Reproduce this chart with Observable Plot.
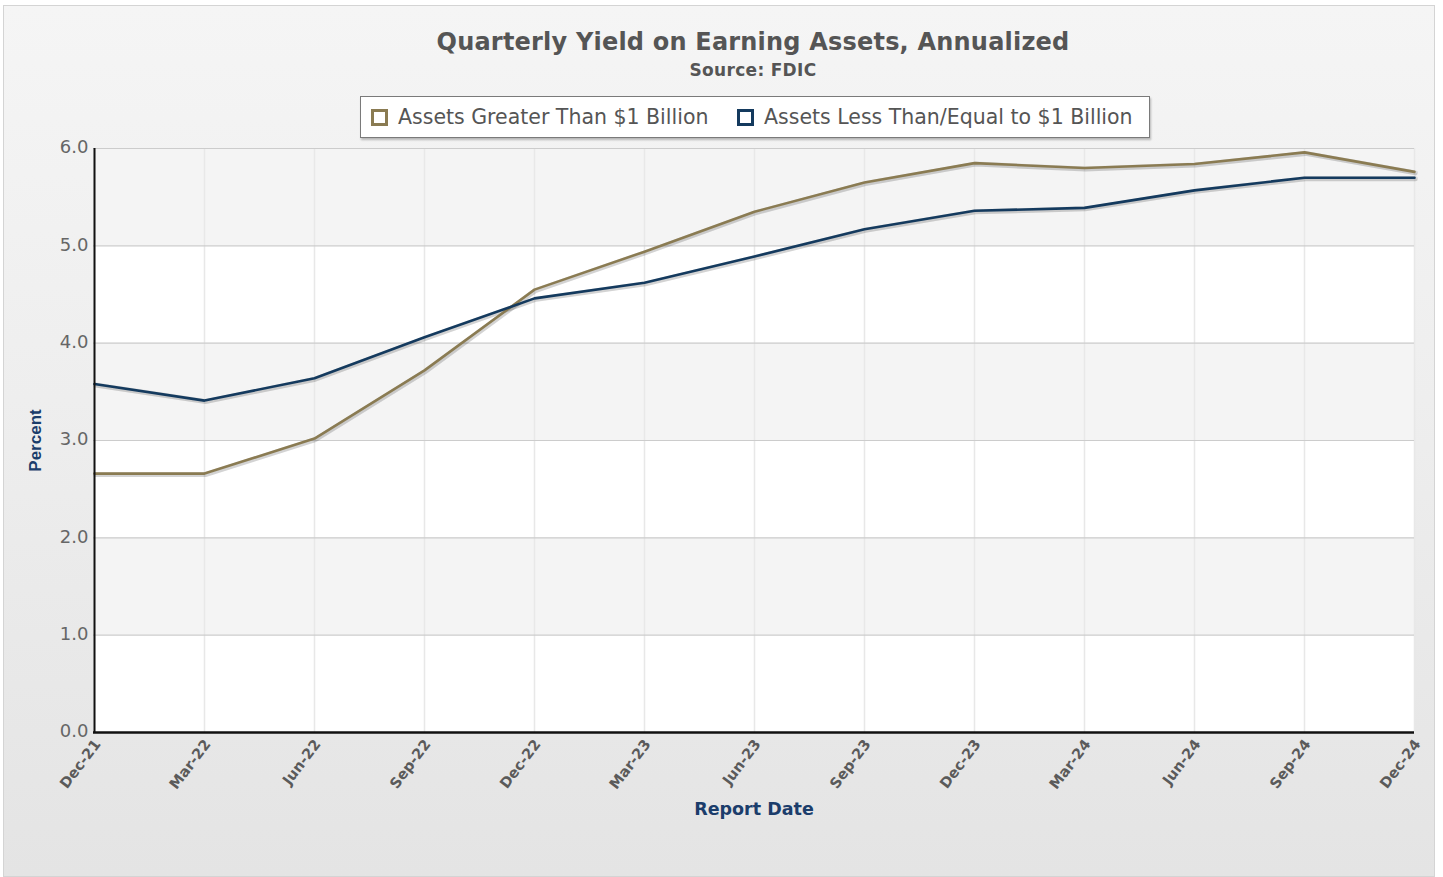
<!DOCTYPE html>
<html>
<head>
<meta charset="utf-8">
<script src="https://cdn.jsdelivr.net/npm/d3@7"></script>
<script src="https://cdn.jsdelivr.net/npm/@observablehq/plot@0.6"></script>
<style>
  html, body { margin: 0; padding: 0; background: #ffffff; overflow: hidden; }
  body { width: 1443px; height: 877px; position: relative; font-family: "DejaVu Sans", Verdana, sans-serif; }
  #card { position: absolute; left: 3px; top: 5px; width: 1432px; height: 872px; box-sizing: border-box;
          border: 1px solid #d4d4d4; background: linear-gradient(#f5f5f5 0%, #eeeeee 45%, #e4e4e4 100%); }
  #title { position: absolute; left: 253px; width: 1000px; top: 28px; text-align: center;
           font: bold 24px "DejaVu Sans", Verdana, sans-serif; color: #555555; letter-spacing: 0.2px; }
  #subtitle { position: absolute; left: 253px; width: 1000px; top: 60px; text-align: center;
           font: bold 17px "DejaVu Sans", Verdana, sans-serif; color: #555555; letter-spacing: 0.3px; }
  #legend { position: absolute; left: 360px; top: 96px; width: 790px; height: 42px; box-sizing: border-box;
            background: #ffffff; border: 1px solid #7a7a7a; box-shadow: 1px 2px 2px rgba(0,0,0,0.25); }
  .item { position: absolute; top: 0; height: 40px; display: flex; align-items: center;
          font: 20.5px "DejaVu Sans", Verdana, sans-serif; color: #555555; white-space: nowrap; }
  .swatch { width: 11px; height: 11px; border: 3px solid; background: #fff; margin-right: 10px; }
  #chart { position: absolute; left: 0; top: 140px; }
</style>
</head>
<body>
<div id="card"></div>
<div id="title"></div>
<div id="subtitle"></div>
<div id="legend"></div>
<div id="chart"></div>
<script>
// ---- data ----
const titleText = "Quarterly Yield on Earning Assets, Annualized";
const subtitleText = "Source: FDIC";
const xTitle = "Report Date";
const yTitle = "Percent";
const quarters = ["Dec-21","Mar-22","Jun-22","Sep-22","Dec-22","Mar-23","Jun-23","Sep-23","Dec-23","Mar-24","Jun-24","Sep-24","Dec-24"];
const seriesNames = ["Assets Greater Than $1 Billion", "Assets Less Than/Equal to $1 Billion"];
const seriesColors = ["#8a7b52", "#143a5e"];
const greaterThan1B = [2.66, 2.66, 3.02, 3.72, 4.55, 4.94, 5.35, 5.65, 5.85, 5.80, 5.84, 5.96, 5.76];
const lessEqual1B   = [3.58, 3.41, 3.64, 4.06, 4.46, 4.62, 4.89, 5.17, 5.36, 5.39, 5.57, 5.70, 5.70];
const yTicks = [0, 1, 2, 3, 4, 5, 6];
const shadedBands = [[1, 2], [3, 4], [5, 6]];

// ---- header & legend ----
document.getElementById("title").textContent = titleText;
document.getElementById("subtitle").textContent = subtitleText;
const legend = document.getElementById("legend");
const legendLefts = [10, 376];
seriesNames.forEach((name, i) => {
  const it = document.createElement("div");
  it.className = "item";
  it.style.left = legendLefts[i] + "px";
  const sw = document.createElement("span");
  sw.className = "swatch";
  sw.style.borderColor = seriesColors[i];
  const tx = document.createElement("span");
  tx.textContent = name;
  it.appendChild(sw); it.appendChild(tx);
  legend.appendChild(it);
});

// ---- table ----
const rows = [];
quarters.forEach((q, i) => {
  rows.push({quarter: q, value: greaterThan1B[i], series: seriesNames[0]});
  rows.push({quarter: q, value: lessEqual1B[i], series: seriesNames[1]});
});
const bands = shadedBands.map(([lo, hi]) => ({lo, hi}));

const chart = Plot.plot({
  width: 1443,
  height: 737,
  marginLeft: 93,
  marginRight: 29,
  marginTop: 8,
  marginBottom: 145,
  style: {background: "transparent", overflow: "visible", fontFamily: "'DejaVu Sans', Verdana, sans-serif"},
  x: {type: "point", domain: quarters, padding: 0, axis: null},
  y: {domain: [0, 6], axis: null},
  color: {domain: seriesNames, range: seriesColors},
  marks: [
    Plot.frame({fill: "#ffffff", stroke: null}),
    Plot.rect(bands, {y1: "lo", y2: "hi", fill: "#f4f4f4"}),
    Plot.ruleX(quarters, {x: d => d, stroke: "#e8e8e8", strokeWidth: 1.5}),
    Plot.ruleY(yTicks.filter(d => d > 0), {y: d => d, stroke: "#cccccc", strokeWidth: 1.2}),
    // line shadows
    Plot.line(rows, {x: "quarter", y: "value", z: "series", stroke: "#000", strokeOpacity: 0.10, strokeWidth: 5, dx: 1, dy: 1}),
    Plot.line(rows, {x: "quarter", y: "value", z: "series", stroke: "#000", strokeOpacity: 0.08, strokeWidth: 3, dx: 1, dy: 2}),
    Plot.line(rows, {x: "quarter", y: "value", z: "series", stroke: "series", strokeWidth: 2.6}),
    // axes lines
    Plot.ruleX([quarters[0]], {x: d => d, stroke: "#111111", strokeWidth: 2}),
    Plot.ruleY([0], {y: d => d, stroke: "#111111", strokeWidth: 2.5}),
    // y tick labels
    Plot.text(yTicks, {frameAnchor: "left", y: d => d, text: d => d.toFixed(1), dx: -5, dy: -1, textAnchor: "end",
      fontSize: 18, fill: "#666666", letterSpacing: 3}),
    // x tick labels
    Plot.text(quarters, {x: d => d, y: () => 0, text: d => d, rotate: -53, textAnchor: "end", lineAnchor: "middle",
      dx: 3, dy: 9, fontSize: 14.5, fontWeight: "bold", fill: "#5a5a5a"}),
    // axis titles
    Plot.text([yTitle], {frameAnchor: "left", text: d => d, rotate: -90, textAnchor: "middle", dx: -58, fontSize: 17,
      fontWeight: "bold", fill: "#1b3d6b", fontFamily: "'Liberation Sans', Arial, sans-serif"}),
    Plot.text([xTitle], {frameAnchor: "bottom", text: d => d, textAnchor: "middle", dy: 82, fontSize: 17.5,
      fontWeight: "bold", fill: "#1b3d6b"})
  ]
});
document.getElementById("chart").appendChild(chart);
</script>
</body>
</html>
